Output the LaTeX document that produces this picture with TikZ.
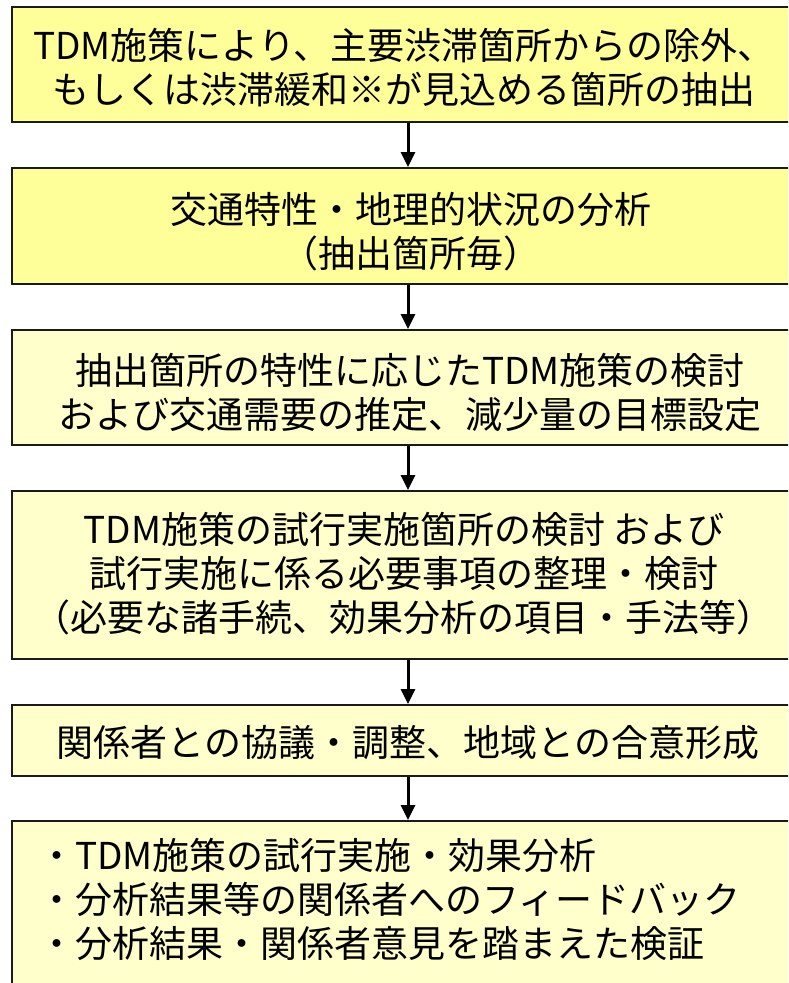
\documentclass[tikz,border=0pt]{standalone}
\usepackage{fontspec}
\setmainfont{Noto Sans CJK JP}
\usetikzlibrary{arrows.meta}
\definecolor{ybright}{HTML}{FFFF99}
\definecolor{ypale}{HTML}{FFFFCC}
\definecolor{edge}{HTML}{1A1A1A}
\tikzset{
  boxbase/.style={draw=edge, line width=2pt, rectangle, minimum width=792pt, inner sep=0pt},
  boxbright/.style={boxbase, fill=ybright},
  boxpale/.style={boxbase, fill=ypale},
  label/.style={align=center, inner sep=0pt, font=\fontsize{37pt}{44pt}\selectfont},
  flow/.style={line width=3pt, -{Triangle[width=14pt,length=15pt]}}
}
\begin{document}
\begin{tikzpicture}[x=1pt,y=-1pt]
\useasboundingbox (0,0) rectangle (788,983);
\clip (0,0) rectangle (788,983);
\fill[white] (0,0) rectangle (788,983);
\node[boxbright, minimum height=115pt] (b1) at (408,64.5) {};
\node[boxbright, minimum height=116pt] (b2) at (408,226) {};
\node[boxpale, minimum height=115pt] (b3) at (408,387.5) {};
\node[boxpale, minimum height=168pt] (b4) at (408,575) {};
\node[boxpale, minimum height=71pt] (b5) at (408,740.5) {};
\node[boxpale, minimum height=189pt] (b6) at (408,915.5) {};
\node[label] (t1) at (404,67.5) {TDM施策により、主要渋滞箇所からの除外、\\もしくは渋滞緩和※が見込める箇所の抽出};
\node[label] (t2) at (411,231.5) {交通特性・地理的状況の分析\\（抽出箇所毎）};
\node[label] (t3) at (410,392) {抽出箇所の特性に応じたTDM施策の検討\\および交通需要の推定、減少量の目標設定};
\node[label] (t4) at (404,574) {TDM施策の試行実施箇所の検討 および\\試行実施に係る必要事項の整理・検討\\（必要な諸手続、効果分析の項目・手法等）};
\node[label] (t5) at (408,743) {関係者との協議・調整、地域との合意形成};
\node[label, align=left, anchor=west] (t6) at (38,899) {・TDM施策の試行実施・効果分析\\・分析結果等の関係者へのフィードバック\\・分析結果・関係者意見を踏まえた検証};
\draw[flow] (b1.south) -- (b2.north);
\draw[flow] (b2.south) -- (b3.north);
\draw[flow] (b3.south) -- (b4.north);
\draw[flow] (b4.south) -- (b5.north);
\draw[flow] (b5.south) -- (b6.north);
\end{tikzpicture}
\end{document}
